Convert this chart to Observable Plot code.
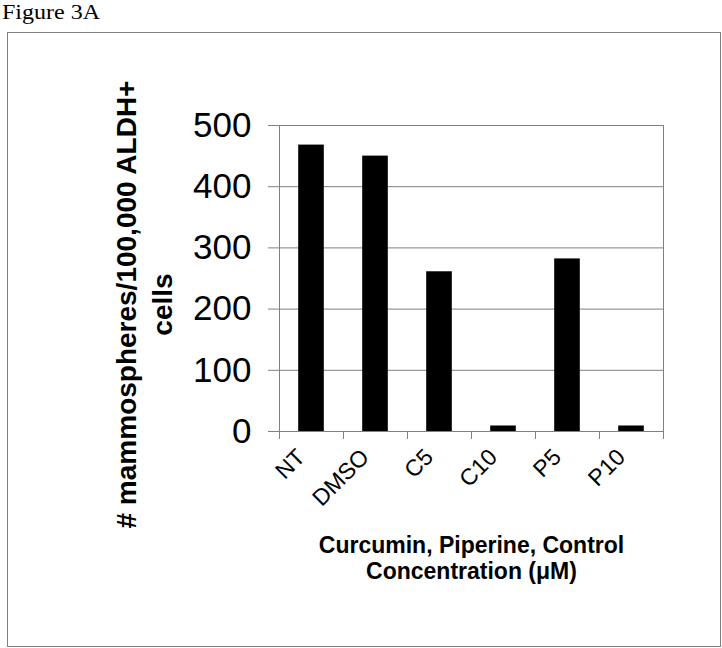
<!DOCTYPE html>
<html><head><meta charset="utf-8">
<script src="https://cdn.jsdelivr.net/npm/d3@7"></script>
<script src="https://cdn.jsdelivr.net/npm/@observablehq/plot@0.6"></script>
<style>
body{margin:0;background:#fff;}
#wrap{position:relative;width:722px;height:648px;overflow:hidden;}
#title{position:absolute;left:2px;top:0px;line-height:24px;font-family:"Liberation Serif","Times New Roman",serif;font-size:20px;transform:scaleX(1.2);transform-origin:0 0;white-space:nowrap;}
#frame{position:absolute;left:7px;top:32px;width:712px;height:613px;border:1px solid #808080;}
#chart svg{position:absolute;left:0;top:0;}
</style></head><body>
<div id="wrap"><div id="chart"></div><div id="frame"></div><div id="title">Figure 3A</div></div>
<script>
const categories = ["NT", "DMSO", "C5", "C10", "P5", "P10"];
const values = [468, 450, 261, 9, 282, 9];
const yTicks = [0, 100, 200, 300, 400, 500];
const yLabel = "# mammospheres/100,000 ALDH+\ncells";
const xLabel = "Curcumin, Piperine, Control\nConcentration (\u03bcM)";

const data = categories.map((c, i) => ({category: c, index: i, value: values[i]}));
const boundaries = d3.range(categories.length + 1);
const barFrac = 0.4;
const gray = "#808080";

const plot = Plot.plot({
  width: 722, height: 648,
  marginLeft: 279, marginRight: 59, marginTop: 125, marginBottom: 217,
  style: {fontFamily: "'Liberation Sans', Arial, sans-serif", background: "transparent", color: "black"},
  x: {domain: [0, categories.length]},
  y: {domain: [0, 500]},
  marks: [
    Plot.ruleY(yTicks.filter(v => v > 0), {stroke: gray}),
    Plot.ruleX([categories.length], {stroke: gray}),
    Plot.rectY(data, {x1: d => d.index + (1 - barFrac) / 2, x2: d => d.index + (1 + barFrac) / 2, y: "value", fill: "black"}),
    Plot.ruleX([0], {stroke: gray}),
    Plot.ruleY([0], {stroke: gray}),
    Plot.axisY({ticks: yTicks, tickSize: 11, tickPadding: 17, fontSize: 35, label: null, stroke: gray}),
    Plot.axisX({ticks: boundaries, tickSize: 8, tickFormat: () => "", label: null, stroke: gray}),
    Plot.text(data, {x: d => d.index + 0.5, frameAnchor: "bottom", text: "category", rotate: -45, textAnchor: "end", dx: -5, dy: 27, fontSize: 23}),
    Plot.text([yLabel], {text: d => d, frameAnchor: "left", rotate: -90, dx: -137, dy: 26, fontSize: 28, fontWeight: "bold", lineHeight: 1.29, textAnchor: "middle"}),
    Plot.text([xLabel], {text: d => d, frameAnchor: "bottom", dy: 147, fontSize: 23, fontWeight: "bold", lineHeight: 1.13, textAnchor: "middle"})
  ]
});
document.getElementById("chart").appendChild(plot);
</script>
</body></html>
